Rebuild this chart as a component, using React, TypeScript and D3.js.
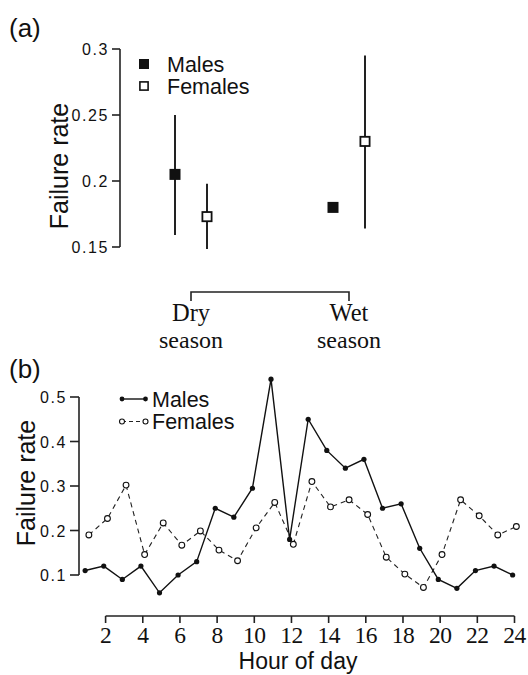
import React from "react";
import * as d3 from "d3";

// ---------- Panel (a) data ----------
const seasons = ["Dry", "Wet"];
const maleMean = [0.205, 0.18];
const maleLow: (number | null)[] = [0.159, null];
const maleHigh: (number | null)[] = [0.25, null];
const femaleMean = [0.173, 0.23];
const femaleLow: (number | null)[] = [0.1485, 0.164];
const femaleHigh: (number | null)[] = [0.198, 0.295];
const aTicks = [0.15, 0.2, 0.25, 0.3];
const aTickLabels = ["0.15", "0.2", "0.25", "0.3"];

// ---------- Panel (b) data ----------
const hours = d3.range(1, 25);
const maleRate = [0.11, 0.12, 0.09, 0.12, 0.06, 0.1, 0.13, 0.25, 0.23, 0.295, 0.54, 0.18,
  0.45, 0.38, 0.34, 0.36, 0.25, 0.26, 0.16, 0.09, 0.07, 0.11, 0.12, 0.1];
const femaleRate = [0.19, 0.227, 0.302, 0.146, 0.217, 0.167, 0.199, 0.156, 0.132, 0.206, 0.263, 0.169,
  0.31, 0.253, 0.269, 0.236, 0.14, 0.102, 0.072, 0.146, 0.269, 0.233, 0.19, 0.209];
const bTicks = [0.1, 0.2, 0.3, 0.4, 0.5];
const hourTicks = [2, 4, 6, 8, 10, 12, 14, 16, 18, 20, 22, 24];

const SANS = "'Liberation Sans', Arial, Helvetica, sans-serif";
const SERIF = "'Liberation Serif', 'Times New Roman', serif";

export default function App() {
  // Panel a scales
  const ya = d3.scaleLinear().domain([0.15, 0.3]).range([247, 49]);
  const xa = d3.scalePoint<string>().domain(seasons).range([191, 349]);
  const off = 16;
  const sq = 11;

  // Panel b scales
  const xb = d3.scaleLinear().domain([2, 24]).range([105.6, 514.5]);
  const yb = d3.scaleLinear().domain([0.1, 0.5]).range([575, 397]);
  const maleLine = d3.line<number>().x((_, i) => xb(hours[i] - 0.1)).y((d) => yb(d));
  const femaleLine = d3.line<number>().x((_, i) => xb(hours[i] + 0.1)).y((d) => yb(d));

  const tickFont = { fontFamily: SANS, fontSize: 16, letterSpacing: 1.6 } as const;

  return (
    <svg width={528} height={675} style={{ position: "absolute", left: 0, top: 0, background: "#fff" }}>
      <rect width={528} height={675} fill="#fff" />
      {/* ---------- Panel (a) ---------- */}
      <text x={9} y={37} fontFamily={SANS} fontSize={26} fill="#111">(a)</text>
      <line x1={120} x2={120} y1={ya(0.3)} y2={ya(0.15)} stroke="#222" strokeWidth={1.6} />
      {aTicks.map((t, i) => (
        <g key={t}>
          <line x1={112} x2={120} y1={ya(t)} y2={ya(t)} stroke="#222" strokeWidth={1.6} />
          <text x={109} y={ya(t) + 6} textAnchor="end" {...tickFont} fill="#111">{aTickLabels[i]}</text>
        </g>
      ))}
      <text transform={`translate(68,166) rotate(-90)`} textAnchor="middle" fontFamily={SANS} fontSize={25} fill="#111">
        Failure rate
      </text>
      {/* error bars */}
      {seasons.map((s, i) => (
        <g key={s}>
          {maleLow[i] !== null && (
            <line x1={xa(s)! - off} x2={xa(s)! - off} y1={ya(maleLow[i]!)} y2={ya(maleHigh[i]!)} stroke="#222" strokeWidth={2} />
          )}
          {femaleLow[i] !== null && (
            <line x1={xa(s)! + off} x2={xa(s)! + off} y1={ya(femaleLow[i]!)} y2={ya(femaleHigh[i]!)} stroke="#222" strokeWidth={2} />
          )}
          <rect x={xa(s)! - off - sq / 2} y={ya(maleMean[i]) - sq / 2} width={sq} height={sq} fill="#111" />
          <rect x={xa(s)! + off - (sq - 1.8) / 2} y={ya(femaleMean[i]) - (sq - 1.8) / 2} width={sq - 1.8} height={sq - 1.8}
            fill="#fff" stroke="#111" strokeWidth={1.8} />
        </g>
      ))}
      {/* legend a */}
      <rect x={139} y={59} width={10} height={10} fill="#111" />
      <rect x={139.9} y={81.9} width={8.2} height={8.2} fill="#fff" stroke="#111" strokeWidth={1.6} />
      <text x={167} y={72} fontFamily={SANS} fontSize={21.5} fill="#111">Males</text>
      <text x={167} y={94} fontFamily={SANS} fontSize={21.5} fill="#111">Females</text>
      {/* bracket */}
      <path d={`M${xa("Dry")},301V292H${xa("Wet")}V301`} fill="none" stroke="#222" strokeWidth={1.6} />
      {seasons.map((s) => (
        <g key={s}>
          <text x={xa(s)} y={321} textAnchor="middle" fontFamily={SERIF} fontSize={24.5} fill="#111">{s}</text>
          <text x={xa(s)} y={348} textAnchor="middle" fontFamily={SERIF} fontSize={24} fill="#111">season</text>
        </g>
      ))}

      {/* ---------- Panel (b) ---------- */}
      <text x={9} y={378} fontFamily={SANS} fontSize={26} fill="#111">(b)</text>
      <line x1={79} x2={79} y1={yb(0.5)} y2={yb(0.1)} stroke="#222" strokeWidth={1.6} />
      {bTicks.map((t) => (
        <g key={t}>
          <line x1={70} x2={79} y1={yb(t)} y2={yb(t)} stroke="#222" strokeWidth={1.6} />
          <text x={67} y={yb(t) + 6} textAnchor="end" {...tickFont} fill="#111">{t.toFixed(1)}</text>
        </g>
      ))}
      <text transform={`translate(35,483) rotate(-90)`} textAnchor="middle" fontFamily={SANS} fontSize={25} fill="#111">
        Failure rate
      </text>
      <line x1={xb(2)} x2={xb(24)} y1={616} y2={616} stroke="#222" strokeWidth={1.6} />
      {hourTicks.map((h) => (
        <g key={h}>
          <line x1={xb(h)} x2={xb(h)} y1={616} y2={623} stroke="#222" strokeWidth={1.6} />
          <text x={xb(h)} y={643} textAnchor="middle" fontFamily={SERIF} fontSize={23.5} letterSpacing={-0.5} fill="#111">{h}</text>
        </g>
      ))}
      <text x={298} y={669} textAnchor="middle" fontFamily={SANS} fontSize={23} fill="#111">Hour of day</text>

      <path d={femaleLine(femaleRate) || ""} fill="none" stroke="#222" strokeWidth={1.1} strokeDasharray="5,4" />
      <path d={maleLine(maleRate) || ""} fill="none" stroke="#111" strokeWidth={1.4} />
      {maleRate.map((v, i) => (
        <circle key={"m" + i} cx={xb(hours[i] - 0.1)} cy={yb(v)} r={2.6} fill="#111" />
      ))}
      {femaleRate.map((v, i) => (
        <circle key={"f" + i} cx={xb(hours[i] + 0.1)} cy={yb(v)} r={2.9} fill="#fff" stroke="#111" strokeWidth={1.1} />
      ))}
      {/* legend b */}
      <line x1={122} x2={145.5} y1={399} y2={399} stroke="#111" strokeWidth={1.4} />
      <circle cx={122} cy={399} r={2.4} fill="#111" />
      <circle cx={145.5} cy={399} r={2.4} fill="#111" />
      <text x={152} y={407} fontFamily={SANS} fontSize={21.5} fill="#111">Males</text>
      <line x1={122} x2={145.5} y1={421.5} y2={421.5} stroke="#222" strokeWidth={1.1} strokeDasharray="4,3" />
      <circle cx={122} cy={421.5} r={2.5} fill="#fff" stroke="#111" strokeWidth={1.1} />
      <circle cx={145.5} cy={421.5} r={2.5} fill="#fff" stroke="#111" strokeWidth={1.1} />
      <text x={152} y={429} fontFamily={SANS} fontSize={21.5} fill="#111">Females</text>
    </svg>
  );
}
